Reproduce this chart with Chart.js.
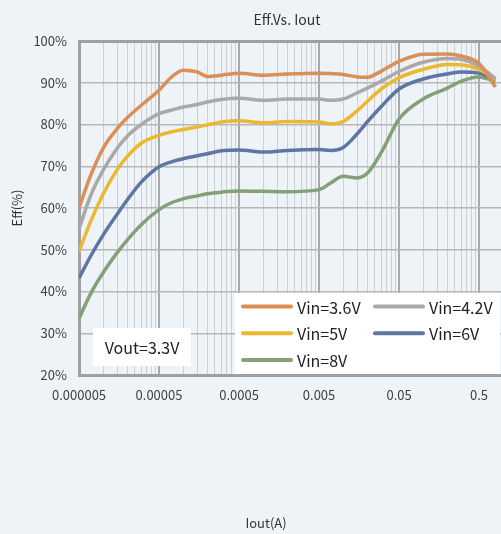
<!DOCTYPE html>
<html>
<head>
<meta charset="utf-8">
<title>Eff.Vs. Iout</title>
<script src="https://cdn.jsdelivr.net/npm/chart.js@4"></script>
<style>
  html, body { margin: 0; padding: 0; background: #edf3f7; overflow: hidden; }
  #wrap { width: 501px; height: 534px; }
</style>
</head>
<body>
<div id="wrap"><canvas id="chart" width="501" height="534"></canvas></div>
<script>
// output current (A), log axis
const iout = [0.000005, 0.000007, 0.00001, 0.000015, 0.00002, 0.00003, 0.00005, 0.00007, 0.0001, 0.00015,
              0.0002, 0.0003, 0.0005, 0.001, 0.002, 0.005, 0.007, 0.01, 0.015, 0.02,
              0.03, 0.05, 0.1, 0.2, 0.3, 0.5, 0.8];

// efficiency (%) per input voltage
const vin36 = [60, 67.8, 74.3, 79, 81.6, 84.6, 88.2, 91.2, 93, 92.6,
               91.5, 91.8, 92.3, 91.8, 92.1, 92.3, 92.2, 92.0, 91.4, 91.3,
               92.8, 95.1, 96.8, 96.9, 96.4, 94.6, 89];
const vin42 = [55, 63, 69, 74.3, 77.2, 80, 82.6, 83.4, 84.2, 84.8,
               85.4, 86, 86.3, 85.8, 86.1, 86.1, 85.8, 86.1, 87.6, 88.7,
               90.4, 92.7, 94.9, 95.8, 95.6, 94, 91];
const vin5  = [49.5, 56.8, 63.3, 69.2, 72.3, 75.5, 77.4, 78.2, 78.8, 79.4,
               79.9, 80.6, 80.9, 80.4, 80.7, 80.6, 80.1, 80.7, 83.3, 85.5,
               88.5, 91.2, 93.2, 94.4, 94.3, 93.2, 90.8];
const vin6  = [43.2, 48.5, 53.5, 58.5, 61.9, 66.2, 69.9, 71, 71.8, 72.5,
               73, 73.7, 73.9, 73.4, 73.8, 74, 73.8, 74.5, 77.8, 80.6,
               84.3, 88.5, 90.9, 92.1, 92.6, 92.3, 90.8];
const vin8  = [33.5, 39.5, 44.5, 49.3, 52.3, 56, 59.6, 61.2, 62.2, 62.9,
               63.4, 63.8, 64.1, 64, 63.9, 64.4, 66, 67.6, 67.2, 68.3,
               73.3, 81.3, 86.1, 88.7, 90.4, 91.4, 90.3];

const seriesNames = ['Vin=3.6V', 'Vin=4.2V', 'Vin=5V', 'Vin=6V', 'Vin=8V'];
const seriesColors = ['#db8f57', '#a9a9a9', '#ecb832', '#5f75a4', '#84a078'];

const majorTicks = [0.000005, 0.00005, 0.0005, 0.005, 0.05, 0.5];
const majorLabels = ['0.000005', '0.00005', '0.0005', '0.005', '0.05', '0.5'];

const FONT = '"Noto Sans CJK SC", "Noto Sans", sans-serif';
const X_MAX = 0.94;

function majorIndex(v) {
    return majorTicks.findIndex(m => Math.abs(m - v) / m < 1e-6);
}

// text boxes, titles and legend drawn on top
const overlay = {
    id: 'overlay',
    afterDraw(chart) {
        const c = chart.ctx;
        c.save();
        c.textBaseline = 'middle';
        c.textAlign = 'center';
        c.fillStyle = '#333';
        c.font = '14px ' + FONT;
        c.fillText('Eff.Vs. Iout', 287, 20);
        c.font = '13px ' + FONT;
        c.fillText('Iout(A)', 266, 523);

        // Vout note
        c.fillStyle = '#fff';
        c.fillRect(93, 328, 98, 38);
        c.fillStyle = '#222';
        c.font = '16px ' + FONT;
        c.fillText('Vout=3.3V', 142, 348);

        // legend
        c.fillStyle = '#fff';
        c.fillRect(235, 293, 265, 81);
        c.textAlign = 'left';
        chart.data.datasets.forEach((ds, i) => {
            const col = i % 2, row = Math.floor(i / 2);
            const x0 = 243 + col * 132;
            const y = 306.5 + row * 26.7;
            c.strokeStyle = ds.borderColor;
            c.lineWidth = 4;
            c.lineCap = 'round';
            c.beginPath();
            c.moveTo(x0, y);
            c.lineTo(x0 + 48, y);
            c.stroke();
            c.fillStyle = '#222';
            c.fillText(ds.label, x0 + 54, y + 1);
        });
        c.restore();
    }
};

const allSeries = [vin36, vin42, vin5, vin6, vin8];

new Chart(document.getElementById('chart'), {
    type: 'line',
    data: {
        datasets: allSeries.map((vals, i) => ({
            label: seriesNames[i],
            data: iout.map((x, j) => ({ x: x, y: vals[j] })),
            borderColor: seriesColors[i],
            borderWidth: 3.5,
            pointRadius: 0,
            fill: false,
            cubicInterpolationMode: 'monotone'
        }))
    },
    options: {
        responsive: false,
        animation: false,
        layout: { padding: { top: 41, left: 0, right: 0, bottom: 0 } },
        plugins: {
            legend: { display: false },
            title: { display: false },
            tooltip: { enabled: false }
        },
        scales: {
            x: {
                type: 'logarithmic',
                min: 0.000005,
                max: X_MAX,
                afterBuildTicks: (scale) => {
                    const ticks = [];
                    majorTicks.forEach(m => {
                        for (let k = 1; k <= 9; k++) {
                            const v = m * k;
                            if (v <= X_MAX) ticks.push({ value: v });
                        }
                    });
                    scale.ticks = ticks;
                },
                afterFit: (scale) => { scale.height = 159; },
                ticks: {
                    autoSkip: false,
                    maxRotation: 0,
                    minRotation: 0,
                    padding: 12,
                    color: '#404040',
                    font: { size: 13, family: FONT },
                    callback: (v) => {
                        const i = majorIndex(v);
                        return i >= 0 ? majorLabels[i] : '';
                    }
                },
                grid: {
                    drawTicks: false,
                    color: (ctx) => majorIndex(ctx.tick.value) >= 0 ? '#a8a8a8' : '#cfcfcf',
                    lineWidth: (ctx) => majorIndex(ctx.tick.value) >= 0 ? 2 : 1
                },
                border: { display: true, color: '#a0a0a0', width: 3 }
            },
            y: {
                min: 20,
                max: 100,
                afterFit: (scale) => { scale.width = 79; },
                ticks: {
                    stepSize: 10,
                    padding: 12,
                    color: '#404040',
                    font: { size: 13, family: FONT },
                    callback: (v) => v + '%'
                },
                grid: {
                    drawTicks: false,
                    color: (ctx) => ctx.tick.value === 100 ? '#a0a0a0' : '#b8b8b8',
                    lineWidth: (ctx) => ctx.tick.value === 100 ? 3 : 1.5
                },
                border: { display: true, color: '#a0a0a0', width: 3 },
                title: {
                    display: true,
                    text: 'Eff(%)',
                    color: '#333',
                    font: { size: 13, family: FONT },
                    padding: { top: 9, bottom: 0 }
                }
            }
        }
    },
    plugins: [overlay]
});
</script>
</body>
</html>
